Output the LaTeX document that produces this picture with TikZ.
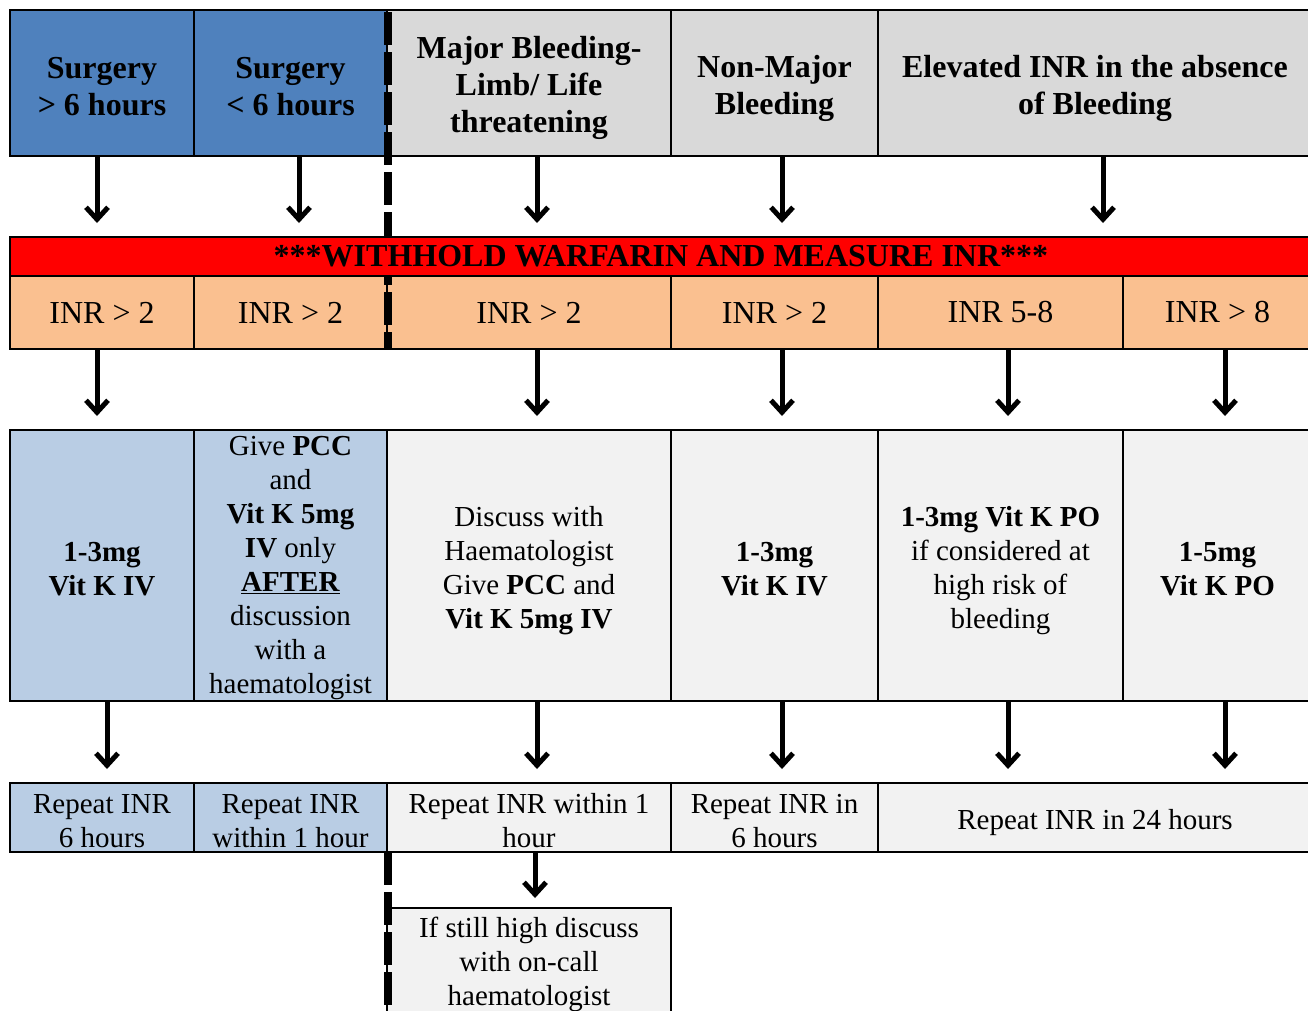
\documentclass[tikz,border=0pt]{standalone}
\usepackage{fontspec}
\setmainfont{Liberation Serif}
\usetikzlibrary{arrows.meta,calc}
\definecolor{hdrblue}{HTML}{4F81BD}
\definecolor{hdrgrey}{HTML}{D9D9D9}
\definecolor{barred}{HTML}{FF0000}
\definecolor{inrpeach}{HTML}{FAC090}
\definecolor{paleblue}{HTML}{B9CDE4}
\definecolor{palegrey}{HTML}{F2F2F2}
% struts so that lines sit like table rows
\newcommand{\hst}{\rule[-4.8pt]{0pt}{37pt}}
\newcommand{\bst}{\rule[-4.4pt]{0pt}{34pt}}
\newcommand{\fixedlines}{\lineskiplimit=-50pt\relax}
\tikzstyle{cell} = [rectangle, draw, line width=2pt, align=center, outer sep=0pt, inner sep=0pt, anchor=north west, font=\fontsize{29}{34}\selectfont\fixedlines]
\tikzstyle{head} = [cell, minimum height=146pt, font=\fontsize{32}{37}\selectfont\fixedlines\bfseries]
\tikzstyle{inr} = [cell, fill=inrpeach, minimum height=73pt, font=\fontsize{32}{37}\selectfont]
\tikzstyle{treat} = [cell, minimum height=271pt]
\tikzstyle{rep} = [cell, minimum height=69pt]
\tikzstyle{divider} = [line width=8pt, dash pattern=on 33pt off 7pt]
\tikzstyle{arr} = [-{Straight Barb[length=12pt,width=22pt]}, line width=5pt, shorten >=14pt]

\begin{document}
\begin{tikzpicture}[x=1pt, y=-1pt]
    \useasboundingbox (0,0) rectangle (1308,1010);
    % headers
    \node[head, fill=hdrblue, minimum width=184pt] (s1) at (10,10) {\hst Surgery\\> 6 hours\hst};
    \node[head, fill=hdrblue, minimum width=193pt] (s2) at (194,10) {\hst Surgery\\< 6 hours\hst};
    \node[head, fill=hdrgrey, minimum width=284pt] (mb) at (387,10) {\hst Major Bleeding-\\Limb/ Life\\threatening\hst};
    \node[head, fill=hdrgrey, minimum width=207pt] (nm) at (671,10) {\hst Non-Major\\Bleeding\hst};
    \node[head, fill=hdrgrey, minimum width=434pt] (el) at (878,10) {\hst Elevated INR in the absence\\of Bleeding\hst};

    % INR levels
    \node[inr, minimum width=184pt] (i1) at (10,276) {INR > 2};
    \node[inr, minimum width=193pt] (i2) at (194,276) {INR > 2};
    \node[inr, minimum width=284pt] (i3) at (387,276) {INR > 2};
    \node[inr, minimum width=207pt] (i4) at (671,276) {INR > 2};
    \node[inr, minimum width=245pt] (i5) at (878,276) {INR 5-8};
    \node[inr, minimum width=189pt] (i6) at (1123,276) {INR > 8};

    \node[cell, fill=palegrey, minimum width=284pt, minimum height=104pt] (oncall) at (387,908) {\bst If still high discuss\\with on-call\\haematologist\bst};

    % dashed split between surgery and bleeding
    \draw[divider] (387.5,12) -- (387.5,237);
    \draw[divider] (387.5,252) -- (387.5,349);
    \draw[divider] (387.5,852) -- (387.5,1012);

    \node[cell, fill=barred, minimum width=1302pt, minimum height=39pt, font=\fontsize{32}{37}\selectfont\bfseries] (bar) at (10,237) {***WITHHOLD WARFARIN AND MEASURE INR***};

    % treatment
    \node[treat, fill=paleblue, minimum width=184pt] (t1) at (10,430) {\bst\textbf{1-3mg}\\\textbf{Vit K IV}\bst};
    \node[treat, fill=paleblue, minimum width=193pt] (t2) at (194,430) {\rule{0pt}{25pt}Give \textbf{PCC}\\and\\\textbf{Vit K 5mg}\\\textbf{IV} only\\\underline{\textbf{AFTER}}\\discussion\\with a\\haematologist};
    \node[treat, fill=palegrey, minimum width=284pt] (t3) at (387,430) {\bst Discuss with\\Haematologist\\Give \textbf{PCC} and\\\textbf{Vit K 5mg IV}\bst};
    \node[treat, fill=palegrey, minimum width=207pt] (t4) at (671,430) {\bst\textbf{1-3mg}\\\textbf{Vit K IV}\bst};
    \node[treat, fill=palegrey, minimum width=245pt] (t5) at (878,430) {\bst\textbf{1-3mg Vit K PO}\\if considered at\\high risk of\\bleeding\bst};
    \node[treat, fill=palegrey, minimum width=189pt] (t6) at (1123,430) {\bst\textbf{1-5mg}\\\textbf{Vit K PO}\bst};

    % repeat INR
    \node[rep, fill=paleblue, minimum width=184pt] (r1) at (10,783) {\bst Repeat INR\\6 hours\bst};
    \node[rep, fill=paleblue, minimum width=193pt] (r2) at (194,783) {\bst Repeat INR\\within 1 hour\bst};
    \node[rep, fill=palegrey, minimum width=284pt] (r3) at (387,783) {\bst Repeat INR within 1\\hour\bst};
    \node[rep, fill=palegrey, minimum width=207pt] (r4) at (671,783) {\bst Repeat INR in\\6 hours\bst};
    \node[rep, fill=palegrey, minimum width=434pt] (r5) at (878,783) {\bst Repeat INR in 24 hours\bst};

    \draw[arr] ($(s1.south)+(-5,0)$) -- ($(s1.south |- bar.north)+(-5,0)$);
    \draw[arr] ($(s2.south)+(8.5,0)$) -- ($(s2.south |- bar.north)+(8.5,0)$);
    \draw[arr] ($(mb.south)+(8,0)$) -- ($(mb.south |- bar.north)+(8,0)$);
    \draw[arr] ($(nm.south)+(7.5,0)$) -- ($(nm.south |- bar.north)+(7.5,0)$);
    \draw[arr] ($(el.south)+(8,0)$) -- ($(el.south |- bar.north)+(8,0)$);

    \draw[arr] ($(i1.south)+(-5,0)$) -- ($(t1.north)+(-5,0)$);
    \draw[arr] ($(i3.south)+(8,0)$) -- ($(t3.north)+(8,0)$);
    \draw[arr] ($(i4.south)+(7.5,0)$) -- ($(t4.north)+(7.5,0)$);
    \draw[arr] ($(i5.south)+(7.5,0)$) -- ($(t5.north)+(7.5,0)$);
    \draw[arr] ($(i6.south)+(7.5,0)$) -- ($(t6.north)+(7.5,0)$);

    \draw[arr] ($(t1.south)+(5,0)$) -- ($(r1.north)+(5,0)$);
    \draw[arr] ($(t3.south)+(8,0)$) -- ($(r3.north)+(8,0)$);
    \draw[arr] ($(t4.south)+(7.5,0)$) -- ($(r4.north)+(7.5,0)$);
    \draw[arr] ($(t5.south)+(7.5,0)$) -- ($(t5.south |- r5.north)+(7.5,0)$);
    \draw[arr] ($(t6.south)+(7.5,0)$) -- ($(t6.south |- r5.north)+(7.5,0)$);

    \draw[arr, shorten >=10pt] ($(r3.south)+(6,0)$) -- ($(oncall.north)+(6,0)$);
\end{tikzpicture}
\end{document}
